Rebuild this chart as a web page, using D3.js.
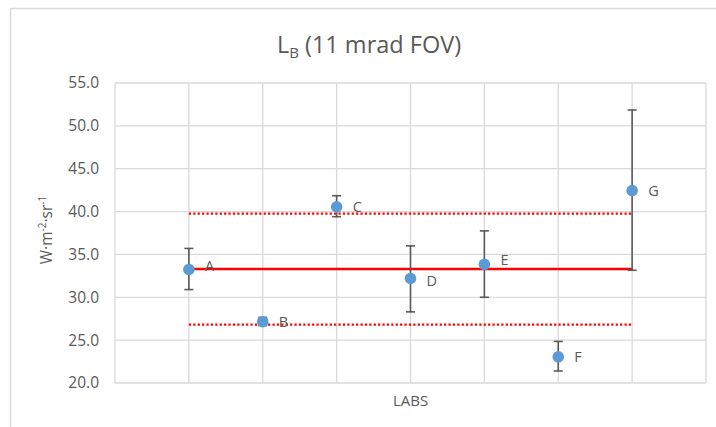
<!DOCTYPE html>
<html>
<head>
<meta charset="utf-8">
<script src="https://cdn.jsdelivr.net/npm/d3@7"></script>
<style>
  html, body { margin: 0; padding: 0; background: #fff; }
  svg { display: block; font-family: "Open Sans", sans-serif; }
</style>
</head>
<body>
<svg id="chart" width="716" height="427"></svg>
<script>
// ---- data ----
const labs = ["A", "B", "C", "D", "E", "F", "G"];
const values = [33.25, 27.15, 40.55, 32.2, 33.85, 23.05, 42.45];
const errLow = [30.9, 26.7, 39.4, 28.3, 30.0, 21.4, 33.15];
const errHigh = [35.7, 27.65, 41.85, 36.0, 37.75, 24.85, 51.85];
const meanValue = 33.3;
const upperLimit = 39.75;
const lowerLimit = 26.8;
const yTicks = [20, 25, 30, 35, 40, 45, 50, 55];
const title = "(11 mrad FOV)";
const xTitle = "LABS";

// ---- layout ----
const W = 716, H = 427;
const plot = { left: 115, right: 706, top: 83, bottom: 383 };
const svg = d3.select("#chart");
const textColor = "#595959";
const gridColor = "#d9d9d9";

// outer chart border
svg.append("rect")
  .attr("x", 10.5).attr("y", 8.5)
  .attr("width", W + 20).attr("height", H + 20)
  .attr("fill", "none").attr("stroke", gridColor).attr("stroke-width", 1.5);

const x = d3.scaleLinear().domain([0, labs.length + 1]).range([plot.left, plot.right]);
const y = d3.scaleLinear().domain([20, 55]).range([plot.bottom, plot.top]);

// horizontal gridlines
svg.append("g").selectAll("line").data(yTicks).join("line")
  .attr("x1", plot.left).attr("x2", plot.right)
  .attr("y1", d => y(d)).attr("y2", d => y(d))
  .attr("stroke", gridColor).attr("stroke-width", 1.3);

// vertical gridlines
svg.append("g").selectAll("line").data(d3.range(0, labs.length + 2)).join("line")
  .attr("x1", d => x(d)).attr("x2", d => x(d))
  .attr("y1", plot.top).attr("y2", plot.bottom)
  .attr("stroke", gridColor).attr("stroke-width", 1.3);

// y axis ticks labels
const yAxis = d3.axisLeft(y).tickValues(yTicks).tickFormat(d3.format(".1f")).tickSize(0).tickPadding(16);
const gy = svg.append("g").attr("transform", `translate(${plot.left},0)`).call(yAxis);
gy.select(".domain").remove();
gy.selectAll("text").attr("fill", textColor).style("font-size", "15.5px")
  .style("font-family", "'Open Sans', sans-serif");

// reference lines
const line = d3.line().x(d => x(d[0])).y(d => y(d[1]));
const x0 = 1, x1 = labs.length;
[upperLimit, lowerLimit].forEach(v => {
  svg.append("path").datum([[x0, v], [x1, v]])
    .attr("d", line).attr("fill", "none")
    .attr("stroke", "#ff0000").attr("stroke-width", 2.2)
    .attr("stroke-dasharray", "2.2,2.2");
});
svg.append("path").datum([[x0, meanValue], [x1, meanValue]])
  .attr("d", line).attr("fill", "none")
  .attr("stroke", "#ff0000").attr("stroke-width", 2.6);

// error bars
const eb = svg.append("g").attr("stroke", "#595959").attr("stroke-width", 1.6);
labs.forEach((lab, i) => {
  const cx = x(i + 1);
  eb.append("line").attr("x1", cx).attr("x2", cx).attr("y1", y(errLow[i])).attr("y2", y(errHigh[i]));
  eb.append("line").attr("x1", cx - 4.5).attr("x2", cx + 4.5).attr("y1", y(errLow[i])).attr("y2", y(errLow[i]));
  eb.append("line").attr("x1", cx - 4.5).attr("x2", cx + 4.5).attr("y1", y(errHigh[i])).attr("y2", y(errHigh[i]));
});

// points
svg.append("g").selectAll("circle").data(values).join("circle")
  .attr("cx", (d, i) => x(i + 1)).attr("cy", d => y(d))
  .attr("r", 5.8).attr("fill", "#5b9bd5");

// data labels (nudged off the mean line when they would overlap it)
const nudge = d => {
  if (Math.abs(d - meanValue) > 1.5) return 0;
  return d >= meanValue - 0.1 ? -4 : 2;
};
svg.append("g").selectAll("text").data(values).join("text")
  .attr("x", (d, i) => x(i + 1) + 16).attr("y", d => y(d) + nudge(d))
  .attr("dy", "0.35em")
  .attr("fill", textColor).style("font-size", "14.5px")
  .text((d, i) => labs[i]);

// title
const t = svg.append("text").attr("x", 369).attr("y", 53)
  .attr("text-anchor", "middle").attr("fill", textColor).style("font-size", "23.5px");
t.append("tspan").text("L");
t.append("tspan").attr("dy", 5).style("font-size", "15px").text("B");
t.append("tspan").attr("dy", -5).text(" " + title);

// x axis title
svg.append("text").attr("x", (plot.left + plot.right) / 2).attr("y", 406)
  .attr("text-anchor", "middle").attr("fill", textColor).style("font-size", "15px")
  .text(xTitle);

// y axis title
const yt = svg.append("text")
  .attr("transform", `translate(52,230) rotate(-90)`)
  .attr("text-anchor", "middle").attr("fill", textColor).style("font-size", "15.5px");
yt.append("tspan").text("W·m");
yt.append("tspan").attr("dy", -6).style("font-size", "10px").text("-2");
yt.append("tspan").attr("dy", 6).text("·sr");
yt.append("tspan").attr("dy", -6).style("font-size", "10px").text("-1");
</script>
</body>
</html>
